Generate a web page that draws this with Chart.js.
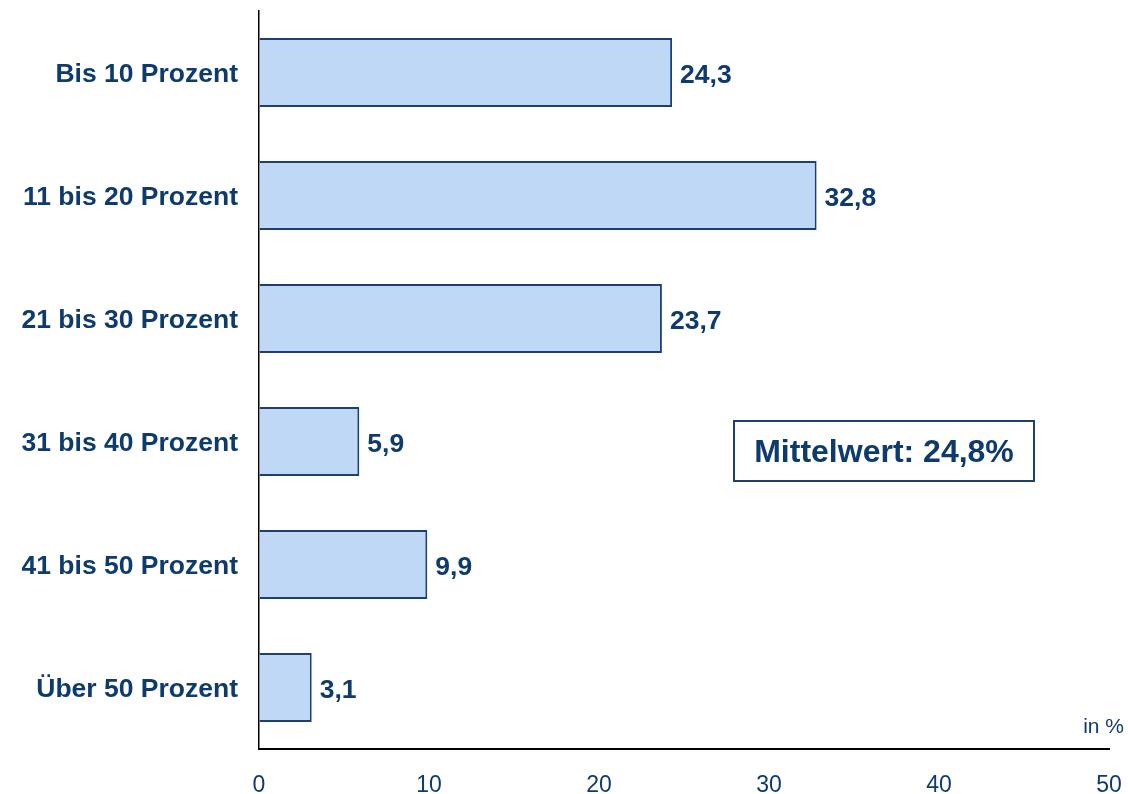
<!DOCTYPE html>
<html>
<head>
<meta charset="utf-8">
<script src="https://cdn.jsdelivr.net/npm/chart.js@4"></script>
<style>
  body { margin: 0; background: #fff; }
  canvas { display: block; }
</style>
</head>
<body>
<canvas id="chart" width="1128" height="794"></canvas>
<script>
const categories = [
    "Bis 10 Prozent",
    "11 bis 20 Prozent",
    "21 bis 30 Prozent",
    "31 bis 40 Prozent",
    "41 bis 50 Prozent",
    "Über 50 Prozent"
];
const shares = [24.3, 32.8, 23.7, 5.9, 9.9, 3.1];
const xTicks = [0, 10, 20, 30, 40, 50];
const meanLabel = "Mittelwert: 24,8%";
const unitLabel = "in %";

const navy = "#0E3B6E";
const font = "'Liberation Sans', Arial, sans-serif";

// value labels at the end of each bar
const barLabels = {
    id: "barLabels",
    afterDatasetsDraw(chart) {
        const ctx = chart.ctx;
        const meta = chart.getDatasetMeta(0);
        ctx.save();
        ctx.fillStyle = navy;
        ctx.font = "bold 26.5px " + font;
        ctx.textAlign = "left";
        ctx.textBaseline = "middle";
        meta.data.forEach((bar, i) => {
            const txt = shares[i].toFixed(1).replace(".", ",");
            ctx.fillText(txt, bar.x + 8, bar.y + 3);
        });
        ctx.restore();
    }
};

// mean box and unit text
const extras = {
    id: "extras",
    afterDraw(chart) {
        const ctx = chart.ctx;
        const area = chart.chartArea;
        ctx.save();
        ctx.strokeStyle = "#1E3F70";
        ctx.lineWidth = 2;
        ctx.strokeRect(734, 421, 300, 60);
        ctx.fillStyle = navy;
        ctx.font = "bold 32px " + font;
        ctx.textAlign = "center";
        ctx.textBaseline = "middle";
        ctx.fillText(meanLabel, 884, 453);

        ctx.font = "21px " + font;
        ctx.textAlign = "right";
        ctx.fillText(unitLabel, 1124, area.bottom - 22);
        ctx.restore();
    }
};

new Chart(document.getElementById("chart"), {
    type: "bar",
    data: {
        labels: categories,
        datasets: [{
            data: shares,
            backgroundColor: "#BFD8F6",
            borderColor: "#1E3F70",
            borderWidth: 2,
            barPercentage: 0.56,
            categoryPercentage: 1
        }]
    },
    options: {
        indexAxis: "y",
        responsive: false,
        animation: false,
        layout: { padding: { top: 11, right: 19, left: 0, bottom: 0 } },
        plugins: {
            legend: { display: false },
            tooltip: { enabled: false }
        },
        scales: {
            x: {
                min: 0,
                max: 50,
                afterBuildTicks: s => { s.ticks = xTicks.map(v => ({ value: v })); },
                afterFit: s => {
                    s.height = 45;
                    s.paddingLeft = 0;
                    s.paddingRight = 0;
                },
                grid: { color: "transparent", drawTicks: false },
                border: { color: "#000", width: 2 },
                ticks: {
                    color: navy,
                    padding: 23,
                    font: { family: font, size: 23 }
                }
            },
            y: {
                afterFit: s => {
                    s.width = 259;
                    s.paddingTop = 0;
                    s.paddingBottom = 0;
                },
                grid: { color: "transparent", drawTicks: false },
                border: { color: "#000", width: 1.5 },
                ticks: {
                    color: navy,
                    padding: 21,
                    labelOffset: 2,
                    font: { family: font, size: 26.5, weight: "bold" }
                }
            }
        }
    },
    plugins: [barLabels, extras]
});
</script>
</body>
</html>
